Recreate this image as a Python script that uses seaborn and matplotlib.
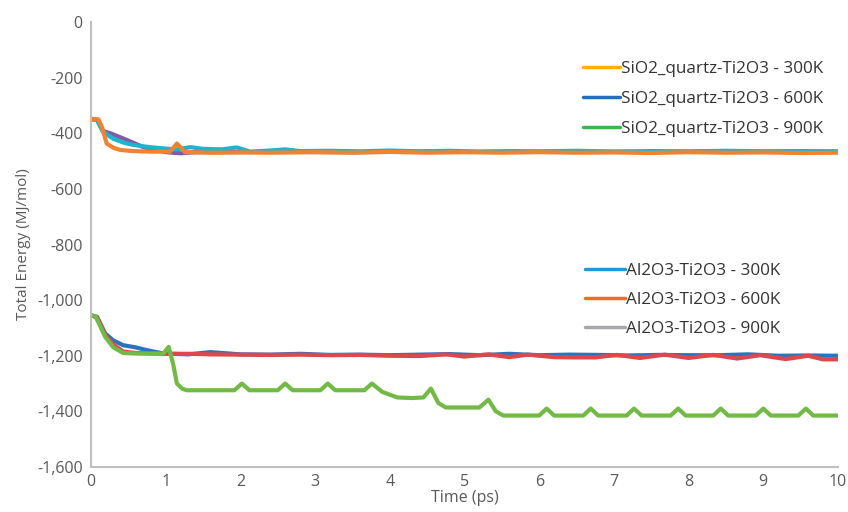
import matplotlib
matplotlib.use("Agg")
import matplotlib.pyplot as plt
import seaborn as sns
import pandas as pd
from matplotlib.lines import Line2D

# ---------------- data ----------------
# upper group (SiO2 systems)
up_orange_x = [0, 0.1, 0.15, 0.21, 0.3, 0.39, 0.55, 0.79, 1.06, 1.15, 1.26, 1.6, 2.0, 2.4, 3.0, 3.5, 4.0,
               4.5, 5.0, 5.5, 6.0, 6.5, 7.0, 7.5, 8.0, 8.5, 9.0, 9.5, 10]
up_orange_y = [-348, -350, -380, -437, -452, -460, -464, -466, -466, -437, -468, -470, -469, -470, -468,
               -470, -467, -470, -468, -470, -468, -470, -469, -471, -468, -470, -469, -471, -470]

up_cyan_x = [0, 0.08, 0.16, 0.3, 0.45, 0.57, 0.79, 1.0, 1.15, 1.33, 1.5, 1.75, 1.95, 2.13, 2.4, 2.6, 2.8,
             3.2, 3.6, 4.0, 4.4, 4.8, 5.2, 5.6, 6.0, 6.5, 7.0, 7.5, 8.0, 8.5, 9.0, 9.5, 10]
up_cyan_y = [-350, -352, -395, -420, -435, -442, -450, -455, -458, -450, -456, -458, -451, -466, -462,
             -458, -464, -463, -465, -462, -465, -463, -466, -464, -465, -463, -466, -464, -465, -463,
             -465, -464, -465]

up_purple_x = [0, 0.08, 0.16, 0.26, 0.48, 0.7, 1.0, 1.2, 1.4, 1.8, 2.5, 3.5, 4.5, 5.5, 6.5, 7.5, 8.5, 10]
up_purple_y = [-350, -352, -392, -400, -424, -450, -468, -472, -468, -468, -467, -468, -466, -467, -466,
               -467, -466, -466]

# lower group (Al2O3 systems)
lo_blue_x = [0, 0.08, 0.19, 0.3, 0.43, 0.6, 0.75, 0.97, 1.3, 1.6, 2.0, 2.4, 2.8, 3.2, 3.6, 4.0, 4.4, 4.8,
             5.2, 5.6, 6.0, 6.4, 6.8, 7.2, 7.6, 8.0, 8.4, 8.8, 9.2, 9.6, 10]
lo_blue_y = [-1055, -1060, -1120, -1145, -1162, -1170, -1180, -1192, -1195, -1187, -1195, -1196, -1193,
             -1197, -1196, -1198, -1196, -1194, -1198, -1193, -1198, -1196, -1197, -1199, -1197, -1198,
             -1198, -1195, -1200, -1199, -1200]

lo_red_x = [0, 0.08, 0.19, 0.3, 0.43, 0.6, 0.8, 1.0, 1.3, 1.6, 2.0, 2.4, 2.8, 3.2, 3.6, 4.0, 4.4, 4.76,
            5.0, 5.32, 5.6, 5.85, 6.2, 6.5, 6.75, 7.04, 7.35, 7.68, 8.0, 8.33, 8.65, 8.96, 9.3, 9.6, 9.8, 10]
lo_red_y = [-1055, -1062, -1125, -1160, -1185, -1190, -1192, -1193, -1193, -1195, -1196, -1197, -1196,
            -1198, -1197, -1200, -1201, -1195, -1203, -1195, -1205, -1196, -1205, -1206, -1206, -1197,
            -1208, -1196, -1208, -1197, -1210, -1198, -1212, -1200, -1213, -1213]

lo_green_x = [0, 0.06, 0.19, 0.3, 0.43, 0.6, 0.97, 1.04, 1.1, 1.15, 1.22, 1.28, 1.5, 1.92, 2.02, 2.12,
              2.5, 2.6, 2.7, 3.07, 3.17, 3.27, 3.66, 3.76, 3.9, 4.1, 4.3, 4.45, 4.55, 4.65, 4.75, 5.2,
              5.32, 5.42, 5.52, 6.0, 6.1, 6.2, 6.59, 6.69, 6.79, 7.17, 7.27, 7.37, 7.76, 7.86, 7.96,
              8.33, 8.43, 8.53, 8.9, 9.0, 9.1, 9.47, 9.57, 9.67, 10]
lo_green_y = [-1054, -1058, -1132, -1170, -1190, -1192, -1192, -1168, -1230, -1300, -1318, -1324, -1324,
              -1324, -1300, -1324, -1324, -1300, -1324, -1324, -1300, -1324, -1324, -1300, -1330, -1350,
              -1352, -1350, -1318, -1370, -1386, -1386, -1358, -1400, -1415, -1415, -1390, -1415, -1415,
              -1390, -1415, -1415, -1390, -1415, -1415, -1390, -1415, -1415, -1390, -1415, -1415, -1390,
              -1415, -1415, -1390, -1415, -1415]

upper_labels = ["SiO2_quartz-Ti2O3 - 300K", "SiO2_quartz-Ti2O3 - 600K", "SiO2_quartz-Ti2O3 - 900K"]
upper_legend_colors = ["#FFB000", "#1E6FC0", "#3DB54A"]
lower_labels = ["Al2O3-Ti2O3 - 300K", "Al2O3-Ti2O3 - 600K", "Al2O3-Ti2O3 - 900K"]
lower_legend_colors = ["#1C9AD6", "#F26B21", "#A7A7AD"]

y_ticks = [0, -200, -400, -600, -800, -1000, -1200, -1400, -1600]
x_ticks = list(range(0, 11))

# ---------------- plot ----------------
sns.set_style("white")
plt.rcParams["font.family"] = ["Open Sans", "DejaVu Sans"]

fig = plt.figure(figsize=(8.48, 5.12), dpi=100)
ax = fig.add_axes([0.1073, 0.0879, 0.8809, 0.8691])

series = [
    (up_purple_x, up_purple_y, "#7E5CA8"),
    (up_cyan_x, up_cyan_y, "#1FB4CE"),
    (up_orange_x, up_orange_y, "#F3822F"),
    (lo_blue_x, lo_blue_y, "#2A74BD"),
    (lo_red_x, lo_red_y, "#E0474C"),
    (lo_green_x, lo_green_y, "#72BA46"),
]
for xs, ys, c in series:
    df = pd.DataFrame({"t": xs, "e": ys})
    sns.lineplot(data=df, x="t", y="e", ax=ax, color=c, linewidth=3.0, sort=False,
                 estimator=None, solid_joinstyle="round", solid_capstyle="round")

ax.set_xlim(0, 10)
ax.set_ylim(-1600, 0)
ax.set_xticks(x_ticks)
ax.set_yticks(y_ticks)
ax.set_yticklabels([f"{v:,}" for v in y_ticks])
ax.tick_params(axis="both", length=0, colors="#595959", labelsize=11.5)
ax.tick_params(axis="x", pad=5)
ax.tick_params(axis="y", pad=6)
for s in ["top", "right"]:
    ax.spines[s].set_visible(False)
for s in ["left", "bottom"]:
    ax.spines[s].set_color("#BFBFBF")
    ax.spines[s].set_linewidth(1.5)
ax.set_xlabel("Time (ps)", fontsize=11.5, color="#595959", labelpad=0)
ax.set_ylabel("Total Energy (MJ/mol)", fontsize=11, color="#595959", labelpad=4)

h1 = [Line2D([0], [0], color=c, lw=2.5) for c in upper_legend_colors]
fig.legend(h1, upper_labels, loc="upper left", bbox_to_anchor=(0.669, 0.91), frameon=False,
           fontsize=12.3, handlelength=2.2, handletextpad=0.05, labelspacing=0.8, labelcolor="#333333")
h2 = [Line2D([0], [0], color=c, lw=2.5) for c in lower_legend_colors]
fig.legend(h2, lower_labels, loc="upper left", bbox_to_anchor=(0.672, 0.516), frameon=False,
           fontsize=12.3, handlelength=2.3, handletextpad=0.1, labelspacing=0.76, labelcolor="#333333")

fig.savefig("out.png", dpi=100)
